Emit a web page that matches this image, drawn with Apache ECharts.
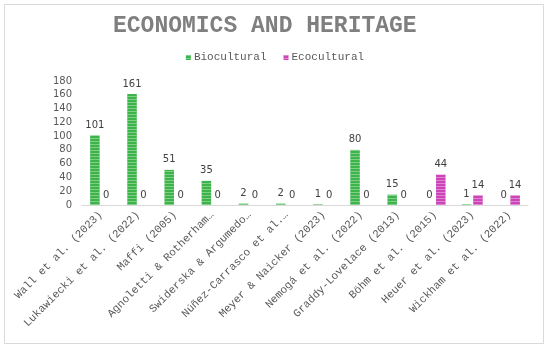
<!DOCTYPE html>
<html>
<head>
<meta charset="utf-8">
<script src="https://cdn.jsdelivr.net/npm/echarts@6/dist/echarts.min.js"></script>
<style>html,body{margin:0;padding:0;background:#fff;}#c{width:550px;height:349px;}</style>
</head>
<body>
<div id="c"></div>
<script>
const categories = [
  "Wall et al. (2023)",
  "Lukawiecki et al. (2022)",
  "Maffi (2005)",
  "Agnoletti & Rotherham…",
  "Swiderska & Argumedo…",
  "Núñez-Carrasco et al.…",
  "Meyer & Naicker (2023)",
  "Nemogá et al. (2022)",
  "Graddy-Lovelace (2013)",
  "Böhm et al. (2015)",
  "Heuer et al. (2023)",
  "Wickham et al. (2022)"
];
const biocultural = [101, 161, 51, 35, 2, 2, 1, 80, 15, 0, 1, 0];
const ecocultural = [0, 0, 0, 0, 0, 0, 0, 0, 0, 44, 14, 14];
const yTicks = { min: 0, max: 180, interval: 20 };

const mono = "'Liberation Mono', 'DejaVu Sans Mono', monospace";
const sans = "'DejaVu Sans', Verdana, sans-serif";
const stripe = { symbol: 'rect', symbolSize: 1, dashArrayX: [1, 0], dashArrayY: [1, 2], rotation: 0, color: 'rgba(255,255,255,0.35)' };

const chart = echarts.init(document.getElementById('c'), null, { renderer: 'canvas' });
chart.setOption({
  backgroundColor: '#fff',
  animation: false,
  title: {
    text: 'ECONOMICS AND HERITAGE',
    left: 113, top: 15, padding: 0,
    textStyle: { fontFamily: mono, fontSize: 23, fontWeight: 'bold', color: '#7f7f7f' }
  },
  legend: {
    data: ['Biocultural', 'Ecocultural'],
    left: 'center', top: 52, padding: 0,
    icon: 'rect', itemWidth: 5, itemHeight: 5, itemGap: 17,
    textStyle: { fontFamily: mono, fontSize: 11, color: '#595959', padding: [0, 0, 0, -2] }
  },
  graphic: [{
    type: 'rect', shape: { x: 4.5, y: 4.5, width: 539, height: 339 },
    style: { fill: 'none', stroke: '#d9d9d9', lineWidth: 1 }, silent: true, z: -1
  }],
  grid: { left: 82, right: 22, top: 81, bottom: 144 },
  xAxis: {
    type: 'category', data: categories,
    axisLine: { lineStyle: { color: '#d9d9d9', width: 1 } },
    axisTick: { show: false },
    axisLabel: { rotate: 45, interval: 0, margin: 8, fontFamily: mono, fontSize: 11, color: '#595959' }
  },
  yAxis: {
    type: 'value', min: yTicks.min, max: yTicks.max, interval: yTicks.interval,
    splitLine: { show: false },
    axisLine: { show: false }, axisTick: { show: false },
    axisLabel: { fontFamily: sans, fontSize: 10, color: '#595959', margin: 10 }
  },
  series: [
    {
      name: 'Biocultural', type: 'bar', data: biocultural,
      barWidth: 9.5, barGap: '20%',
      itemStyle: { color: '#3cb44a', borderWidth: 0, decal: stripe },
      label: { show: true, position: 'top', distance: 5, fontFamily: sans, fontSize: 10, color: '#404040' }
    },
    {
      name: 'Ecocultural', type: 'bar', data: ecocultural,
      barWidth: 9.5, barGap: '20%',
      itemStyle: { color: '#cc44b8', borderWidth: 0, decal: stripe },
      label: { show: true, position: 'top', distance: 5, fontFamily: sans, fontSize: 10, color: '#404040' }
    }
  ]
});
</script>
</body>
</html>
